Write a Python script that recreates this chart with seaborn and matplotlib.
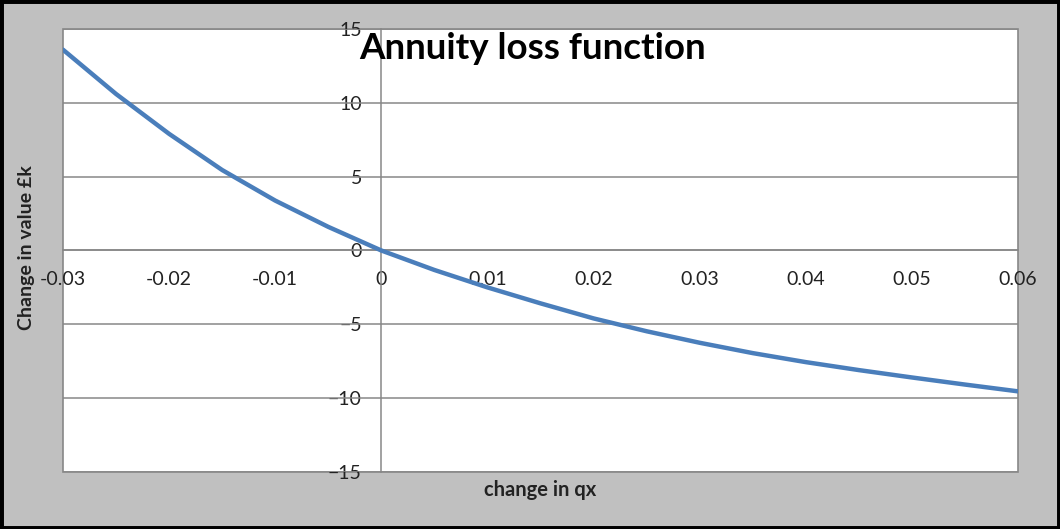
import matplotlib
matplotlib.use("Agg")
import matplotlib.pyplot as plt
from matplotlib.patches import Rectangle
import numpy as np
import pandas as pd
import seaborn as sns

# values
qx_change = [-0.03, -0.025, -0.02, -0.015, -0.01, -0.005, 0.0, 0.005, 0.01, 0.015,
             0.02, 0.025, 0.03, 0.035, 0.04, 0.045, 0.05, 0.055, 0.06]
value_change = [13.6, 10.6, 7.9, 5.45, 3.38, 1.6, 0.0, -1.32, -2.5, -3.58,
                -4.6, -5.47, -6.25, -6.95, -7.56, -8.1, -8.6, -9.08, -9.54]
x_ticks = [-0.03, -0.02, -0.01, 0, 0.01, 0.02, 0.03, 0.04, 0.05, 0.06]
x_ticklabels = ["-0.03", "-0.02", "-0.01", "0", "0.01", "0.02", "0.03", "0.04", "0.05", "0.06"]
y_ticks = [-15, -10, -5, 0, 5, 10, 15]

df = pd.DataFrame({"qx": qx_change, "val": value_change})

sns.set_style("white")
plt.rcParams['font.family'] = ['Lato', 'DejaVu Sans']

grey_bg = "#C0C0C0"
grid_col = "#878787"

fig = plt.figure(figsize=(10.6, 5.29), dpi=100, facecolor=grey_bg)
ax = fig.add_axes([0.0594, 0.1078, 0.901, 0.8374])
ax.set_facecolor("white")

for y in y_ticks:
    ax.axhline(y, color=grid_col, lw=1.1, zorder=1)

sns.lineplot(data=df, x="qx", y="val", ax=ax, color="#4A7EBB", linewidth=3.2, zorder=3)
ax.lines[-1].set_solid_joinstyle('round')

ax.set_xlim(-0.03, 0.06)
ax.set_ylim(-15, 15)

ax.spines['left'].set_position(('data', 0))
ax.spines['bottom'].set_position(('data', 0))
ax.spines['right'].set_visible(False)
ax.spines['top'].set_visible(False)
for s in ['left', 'bottom']:
    ax.spines[s].set_color(grid_col)
    ax.spines[s].set_linewidth(1.1)
ax.add_patch(Rectangle((0, 0), 1, 1, transform=ax.transAxes, fill=False,
                       edgecolor=grid_col, lw=1.2, zorder=0.5, clip_on=False))

ax.set_xticks(x_ticks)
ax.set_xticklabels(x_ticklabels)
ax.set_yticks(y_ticks)
ax.tick_params(axis='x', direction='out', length=5, width=1.1, color=grid_col,
               pad=10, labelsize=14, labelcolor="#222222")
ax.tick_params(axis='y', direction='out', length=3, width=1.1, color=grid_col,
               pad=11, labelsize=14, labelcolor="#222222")
ax.set_xlabel("")
ax.set_ylabel("")

fig.text(0.502, 0.909, "Annuity loss function", ha='center', va='center',
         fontsize=26.5, fontweight='bold', color='black')
fig.text(0.51, 0.073, "change in qx", ha='center', va='center',
         fontsize=14.5, fontweight='bold', color='#222222')
fig.text(0.025, 0.531, "Change in value \u00a3k", ha='center', va='center',
         rotation=90, fontsize=14, fontweight='bold', color='#222222')

fig.patches.append(Rectangle((0, 0), 1, 1, transform=fig.transFigure, fill=False,
                             edgecolor='black', lw=5, zorder=10))

fig.savefig("out.png", dpi=100, facecolor=grey_bg)
